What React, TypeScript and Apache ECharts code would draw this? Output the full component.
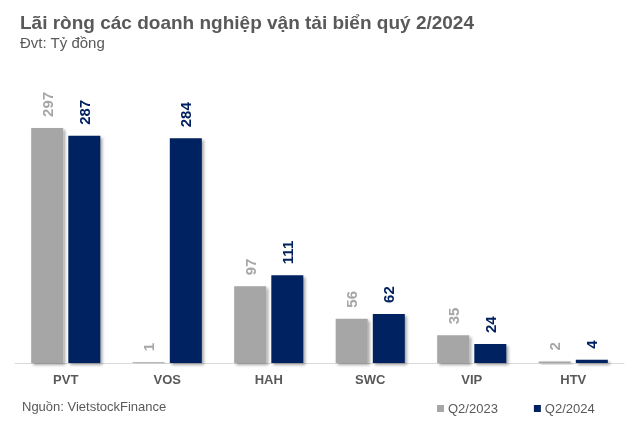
import React, { useEffect, useRef } from "react";
import * as echarts from "echarts";

const categories = ["PVT", "VOS", "HAH", "SWC", "VIP", "HTV"];
const q2023 = [297, 1, 97, 56, 35, 2];
const q2024 = [287, 284, 111, 62, 24, 4];
const seriesNames = ["Q2/2023", "Q2/2024"];
const colors = ["#a6a6a6", "#002060"];

export default function App() {
  const ref = useRef<HTMLDivElement>(null);
  useEffect(() => {
    if (!ref.current) return;
    const chart = echarts.init(ref.current, null, { renderer: "svg" });
    const font = "'Liberation Sans', Arial, sans-serif";
    const mkSeries = (name: string, data: number[], color: string) => ({
      name,
      type: "bar",
      data,
      barWidth: 32,
      barGap: "16%",
      itemStyle: {
        color,
        shadowColor: "rgba(0,0,0,0.35)",
        shadowBlur: 3,
        shadowOffsetX: 2,
        shadowOffsetY: 2,
      },
      label: {
        show: true,
        position: "top",
        rotate: 90,
        align: "left",
        verticalAlign: "middle",
        distance: 11,
        color,
        fontFamily: font,
        fontWeight: "bold",
        fontSize: 15,
      },
    });
    chart.setOption({
      animation: false,
      textStyle: { fontFamily: font },
      title: [
        {
          text: "Lãi ròng các doanh nghiệp vận tải biển quý 2/2024",
          left: 15,
          top: 8,
          textStyle: { fontFamily: font, fontSize: 19, fontWeight: "bold", color: "#595959" },
        },
        {
          text: "Đvt: Tỷ đồng",
          left: 15,
          top: 30,
          textStyle: { fontFamily: font, fontSize: 15, fontWeight: "normal", color: "#595959" },
        },
        {
          text: "Nguồn: VietstockFinance",
          left: 17,
          top: 395,
          textStyle: { fontFamily: font, fontSize: 13, fontWeight: "normal", color: "#595959" },
        },
      ],
      legend: {
        data: seriesNames,
        left: 432,
        top: 397,
        icon: "rect",
        itemWidth: 7,
        itemHeight: 7,
        itemGap: 36,
        textStyle: { fontFamily: font, fontSize: 13, color: "#595959", padding: [0, 0, 0, -1] },
      },
      grid: { left: 15, right: 15, top: 86, bottom: 63 },
      xAxis: {
        type: "category",
        data: categories,
        axisLine: { lineStyle: { color: "#d9d9d9", width: 1 } },
        axisTick: { show: false },
        axisLabel: {
          fontFamily: font,
          fontSize: 13,
          fontWeight: "bold",
          color: "#595959",
          margin: 10,
        },
      },
      yAxis: {
        type: "value",
        min: 0,
        max: 350,
        show: false,
        splitLine: { show: false },
      },
      series: [
        mkSeries(seriesNames[0], q2023, colors[0]),
        mkSeries(seriesNames[1], q2024, colors[1]),
      ],
    });
    return () => chart.dispose();
  }, []);
  return <div ref={ref} style={{ width: 639, height: 426, position: "fixed", left: 0, top: 0 }} />;
}
